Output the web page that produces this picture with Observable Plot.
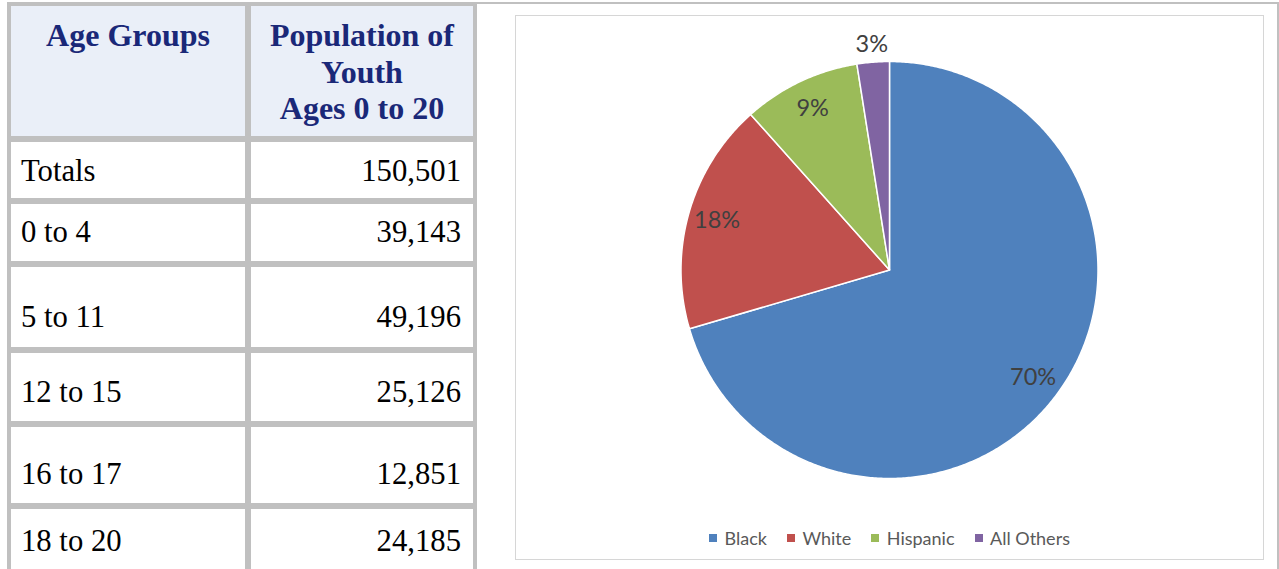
<!DOCTYPE html>
<html>
<head>
<meta charset="utf-8">
<script src="https://cdn.jsdelivr.net/npm/d3@7"></script>
<script src="https://cdn.jsdelivr.net/npm/@observablehq/plot@0.6"></script>
<style>
  html, body { margin: 0; padding: 0; background: #fff; }
  body { width: 1279px; height: 569px; position: relative; overflow: hidden; }
  #frame { position: absolute; left: 473px; top: 2px; width: 806px; height: 620px;
           border-top: 2px solid #c0c0c0; border-right: 2px solid #c0c0c0; box-sizing: border-box; }
  #tbl { position: absolute; left: 7px; top: 2px; padding: 4px; display: grid;
         grid-template-columns: 234px 222px; column-gap: 6px; row-gap: 6px; background: #c0c0c0; }
  .cell { background: #fff; display: flex; align-items: flex-end; box-sizing: border-box;
          font-family: "Liberation Serif", "Times New Roman", serif; font-size: 30.7px; line-height: 1; color: #000;
          padding-left: 10px; padding-right: 12px; }
  .num { justify-content: flex-end; }
  .head { background: #eaeff8; align-items: flex-start; justify-content: center; text-align: center;
          font-weight: bold; font-size: 32px; line-height: 36.7px; color: #1a2878; padding: 10.8px 4px 0 4px; white-space: pre-line; }
  #chartbox { position: absolute; left: 515px; top: 15px; width: 749px; height: 545px;
              border: 1px solid #d6d6d6; box-sizing: border-box; background: #fff; }
  #legend { position: absolute; left: 0; right: 0; top: 500px; height: 43px; display: flex;
            justify-content: center; align-items: center; font-family: Lato, sans-serif; font-size: 18px; color: #595959; }
  .item { display: flex; align-items: center; margin: 0 10px; }
  .sw { width: 8px; height: 8px; margin-right: 7.5px; }
</style>
</head>
<body>
<div id="frame"></div>
<div id="tbl"></div>
<div id="chartbox"><div id="plot"></div><div id="legend"></div></div>
<script>
// ---- data ----
const tableHeaders = ["Age Groups", "Population of\nYouth\nAges 0 to 20"];
const ageGroups = ["Totals", "0 to 4", "5 to 11", "12 to 15", "16 to 17", "18 to 20"];
const youthPopulation = [150501, 39143, 49196, 25126, 12851, 24185];
const races = ["Black", "White", "Hispanic", "All Others"];
const racePercent = [70.45, 17.95, 9.1, 2.5];
const raceColors = ["#4f81bd", "#c0504d", "#9bbb59", "#8064a2"];

// ---- layout (sizes only) ----
const headerHeight = 130;
const rowHeights = [56, 57, 80, 68, 76, 70];
const rowPadBottom = [11.5, 13, 14, 13, 13, 22];

// ---- table ----
const tbl = document.getElementById("tbl");
tbl.style.gridTemplateRows = [headerHeight, ...rowHeights].map(h => h + "px").join(" ");
tableHeaders.forEach(h => {
  const d = document.createElement("div");
  d.className = "cell head";
  d.textContent = h;
  tbl.appendChild(d);
});
const fmt = d3.format(",");
ageGroups.forEach((g, i) => {
  const a = document.createElement("div");
  a.className = "cell";
  a.style.paddingBottom = rowPadBottom[i] + "px";
  a.textContent = g;
  const b = document.createElement("div");
  b.className = "cell num";
  b.style.paddingBottom = rowPadBottom[i] + "px";
  b.textContent = fmt(youthPopulation[i]);
  tbl.appendChild(a);
  tbl.appendChild(b);
});

// ---- pie (via Plot line polygons) ----
const W = 747, H = 500, R = 208.5, cx = 373, cy = 253.5;
const total = d3.sum(racePercent);
const slices = [];
const labels = [];
let cum = 0;
races.forEach((race, i) => {
  const a0 = cum / total * 2 * Math.PI;
  const a1 = (cum + racePercent[i]) / total * 2 * Math.PI;
  const n = Math.max(2, Math.ceil((a1 - a0) / (Math.PI / 360)));
  slices.push({race, x: 0, y: 0});
  for (let k = 0; k <= n; k++) {
    const a = a0 + (a1 - a0) * k / n;
    slices.push({race, x: Math.sin(a), y: Math.cos(a)});
  }
  slices.push({race, x: 0, y: 0});
  const am = (a0 + a1) / 2;
  const rr = racePercent[i] < 5 ? 1.083 : 0.86;
  labels.push({race, x: rr * Math.sin(am), y: rr * Math.cos(am), text: Math.round(racePercent[i] / total * 100) + "%"});
  cum += racePercent[i];
});

const chart = Plot.plot({
  width: W,
  height: H,
  margin: 0,
  x: {domain: [-cx / R, (W - cx) / R], axis: null},
  y: {domain: [-(H - cy) / R, cy / R], axis: null},
  color: {domain: races, range: raceColors},
  style: {background: "transparent", fontFamily: "Lato, sans-serif", overflow: "visible"},
  marks: [
    Plot.line(slices, {x: "x", y: "y", z: "race", fill: "race", stroke: "white", strokeWidth: 1.5, curve: "linear"}),
    Plot.text(labels, {x: "x", y: "y", text: "text", fill: "#404040", fontSize: 23.5})
  ]
});
document.getElementById("plot").appendChild(chart);

// ---- legend ----
const legend = document.getElementById("legend");
races.forEach((r, i) => {
  const it = document.createElement("div");
  it.className = "item";
  const sw = document.createElement("div");
  sw.className = "sw";
  sw.style.background = raceColors[i];
  const t = document.createElement("span");
  t.textContent = r;
  it.appendChild(sw);
  it.appendChild(t);
  legend.appendChild(it);
});
</script>
</body>
</html>
